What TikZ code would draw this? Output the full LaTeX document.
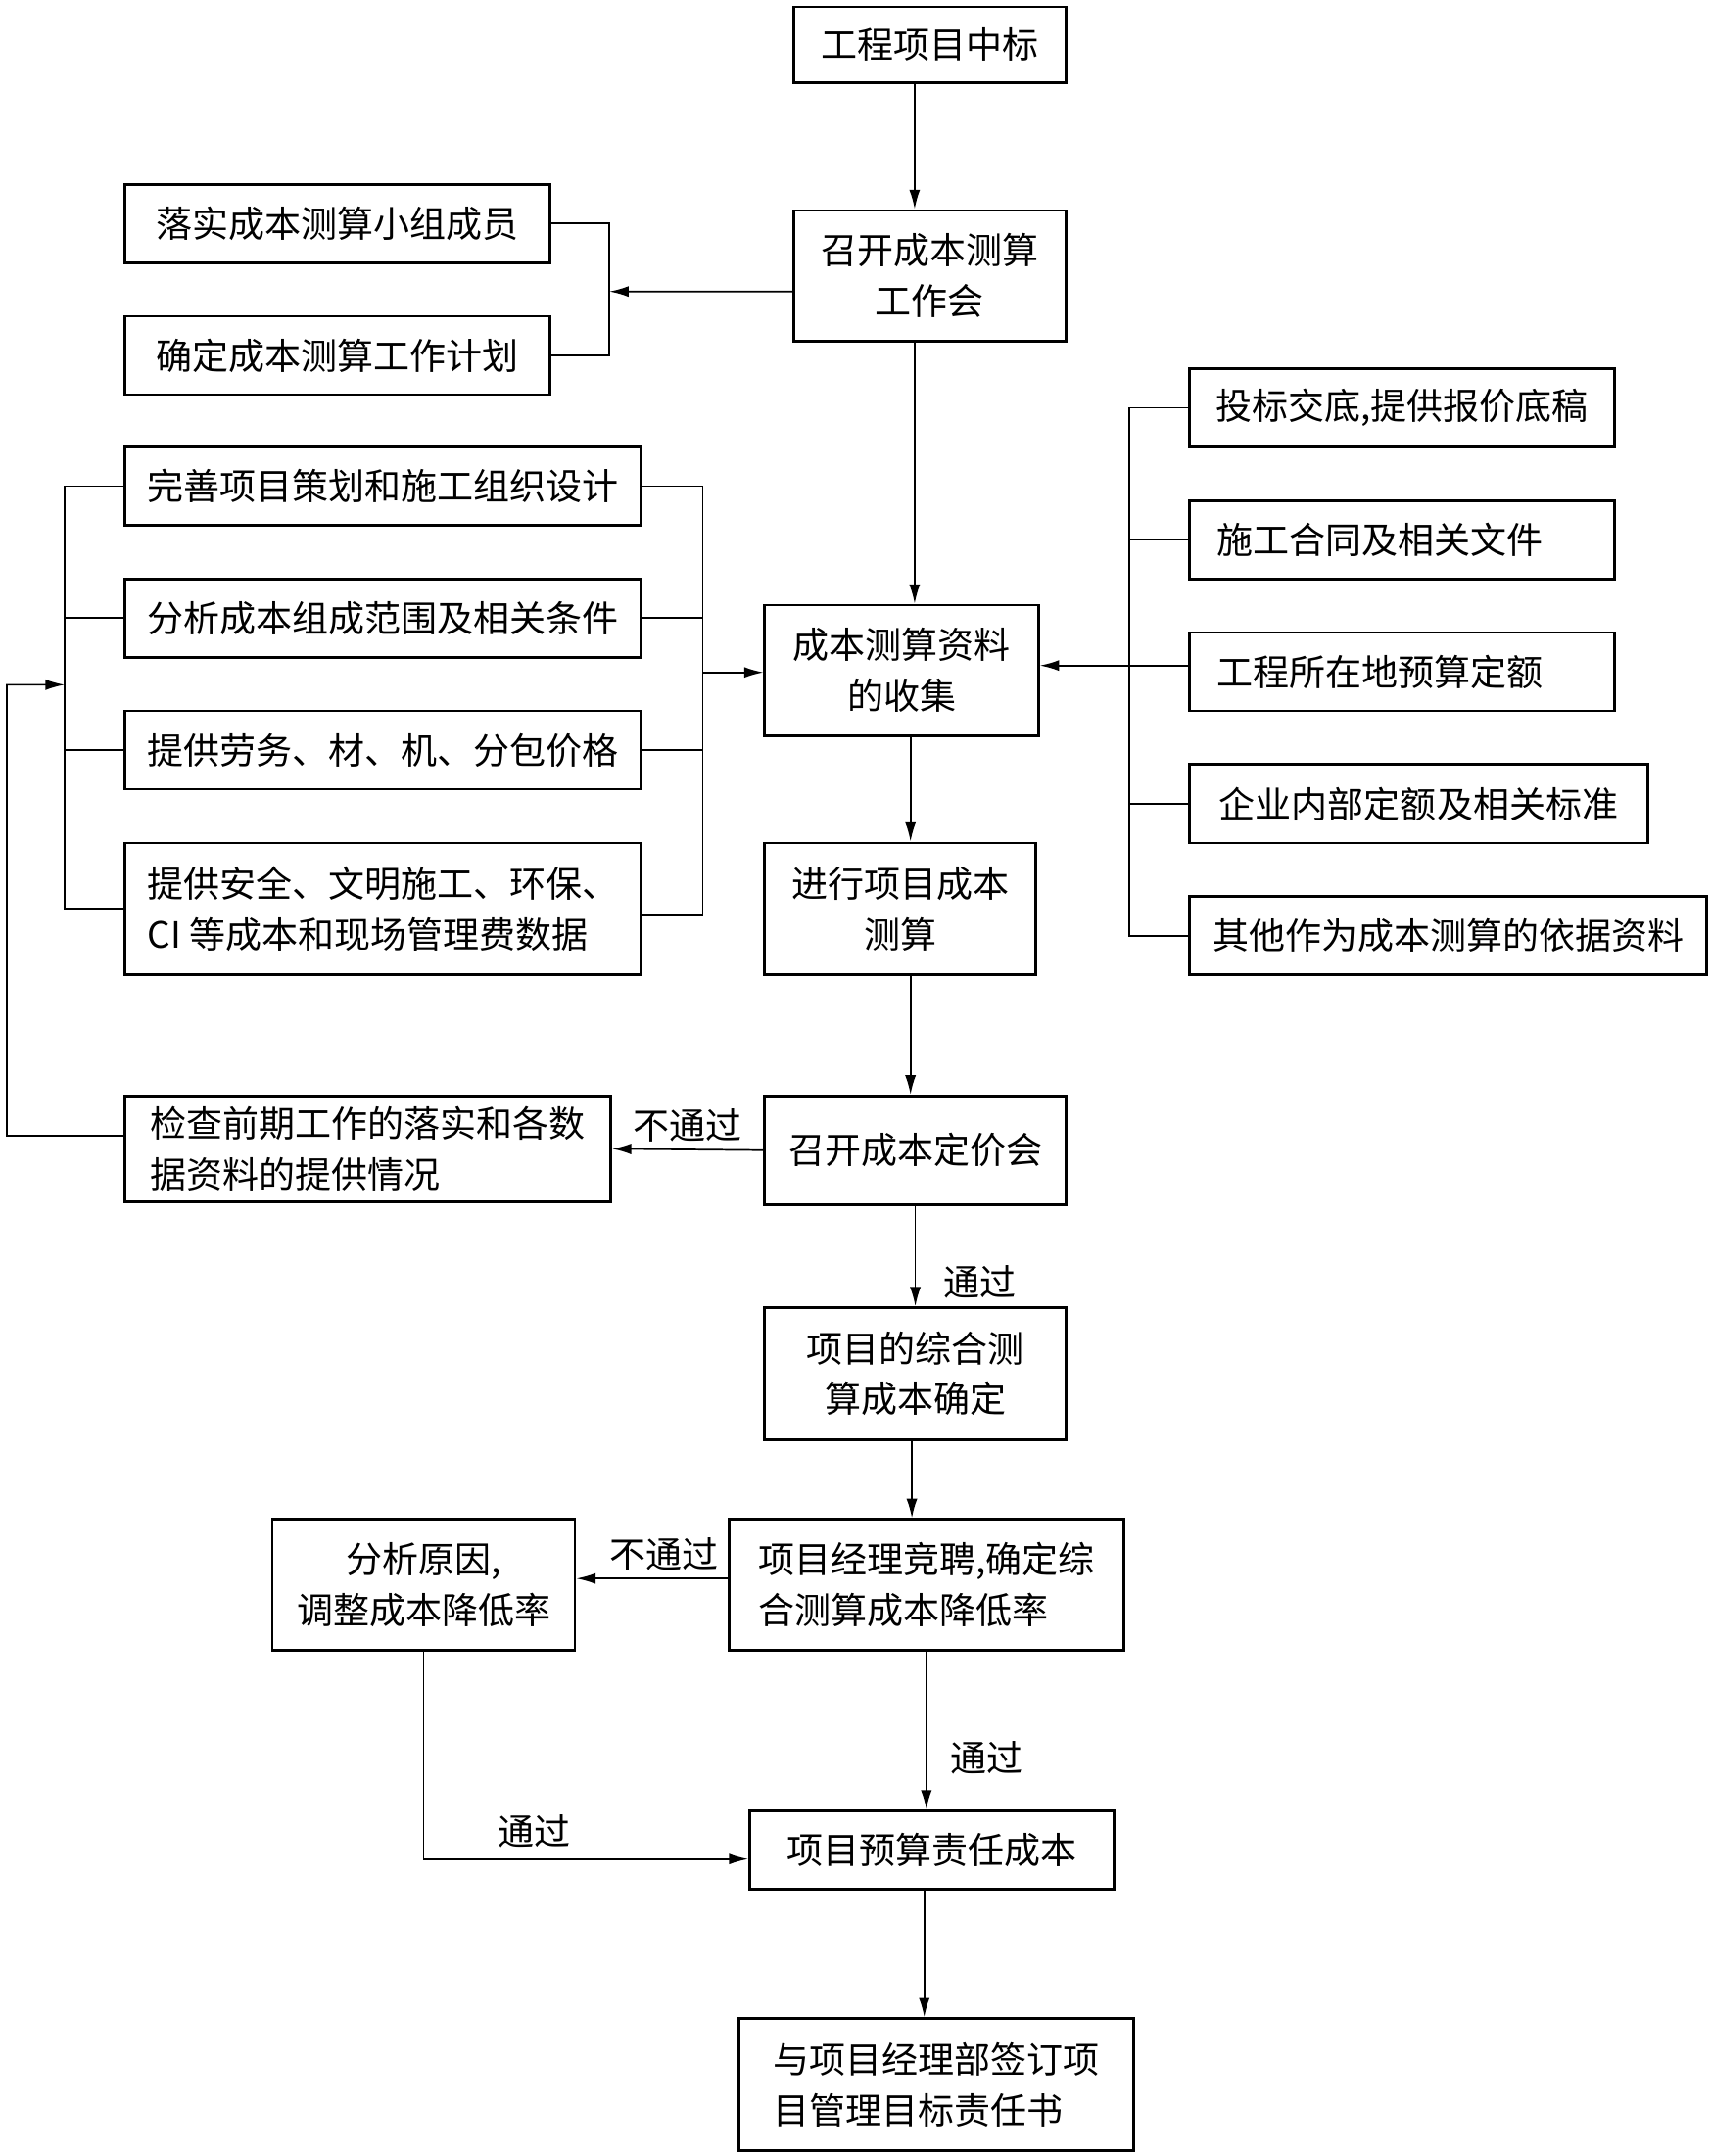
\documentclass[tikz,border=0pt]{standalone}
\usepackage{fontspec}
\setmainfont{Noto Sans CJK SC}
\usepackage{tikz}
\usetikzlibrary{arrows.meta}
\tikzstyle{box} = [rectangle, draw, line width=1.1pt, minimum height=1.14cm, inner sep=2pt, text centered, font=\fontsize{15pt}{21pt}\selectfont]
\tikzstyle{tall} = [box, minimum height=1.92cm]
\tikzstyle{leftbox} = [box, anchor=west, align=left, inner xsep=0.4cm, text width=5.38cm]
\tikzstyle{line} = [line width=0.7pt]
\tikzstyle{arrow} = [line width=0.7pt, -{Latex[length=8pt,width=4.5pt]}]
\tikzstyle{lbl} = [font=\fontsize{15pt}{21pt}\selectfont, inner sep=1pt]

\begin{document}
\begin{tikzpicture}[x=0.02cm, y=-0.02cm]
        \useasboundingbox (0,0) rectangle (1244,1568);

        \node (node0) [box, minimum width=3.96cm, minimum height=1.1cm] at (676,32.5) {工程项目中标};
        \node (node1) [tall, minimum width=3.96cm, minimum height=1.9cm, align=center] at (676,200.5) {召开成本测算\\工作会};
        \node (node2) [box, minimum width=6.18cm] at (245.5,162.5) {落实成本测算小组成员};
        \node (node3) [box, minimum width=6.18cm] at (245.5,258.5) {确定成本测算工作计划};
        \node (node4) [tall, minimum width=3.98cm, minimum height=1.9cm, align=center] at (655.5,487.5) {成本测算资料\\的收集};

        \node (node5) [box, minimum width=7.5cm] at (278.5,353.5) {完善项目策划和施工组织设计};
        \node (node6) [box, minimum width=7.5cm] at (278.5,449.5) {分析成本组成范围及相关条件};
        \node (node7) [box, minimum width=7.5cm] at (278.5,545.5) {提供劳务、材、机、分包价格};
        \node (node8) [tall, minimum width=7.5cm, align=left] at (278.5,661) {提供安全、文明施工、环保、\\CI 等成本和现场管理费数据};

        \node (node9) [box, anchor=west, minimum width=6.18cm] at (864,296.5) {投标交底,提供报价底稿};
        \node (node10) [leftbox] at (864,392.5) {施工合同及相关文件};
        \node (node11) [leftbox] at (864,488.5) {工程所在地预算定额};
        \node (node12) [box, anchor=west, minimum width=6.66cm] at (864,584.5) {企业内部定额及相关标准};
        \node (node13) [box, anchor=west, minimum width=7.52cm] at (864,680.5) {其他作为成本测算的依据资料};

        \node (node14) [tall, minimum width=3.94cm, align=center] at (654.5,661) {进行项目成本\\测算};
        \node (node15) [box, minimum width=4.38cm, minimum height=1.58cm] at (665.5,836.5) {召开成本定价会};
        \node (node16) [box, minimum width=7.06cm, minimum height=1.54cm, align=left] at (267.5,835.5) {检查前期工作的落实和各数\\据资料的提供情况};
        \node (node17) [tall, minimum width=4.38cm, align=center] at (665.5,999) {项目的综合测\\算成本确定};
        \node (node18) [tall, minimum width=5.74cm, minimum height=1.9cm, align=left] at (673.5,1152.5) {项目经理竞聘,确定综\\合测算成本降低率};
        \node (node19) [tall, minimum width=4.4cm, minimum height=1.9cm, align=center] at (308,1152.5) {分析原因,\\调整成本降低率};
        \node (node20) [box, minimum width=5.3cm] at (677.5,1345.5) {项目预算责任成本};
        \node (node21) [tall, minimum width=5.74cm, align=left] at (680.5,1516) {与项目经理部签订项\\目管理目标责任书};

        \coordinate (b1) at (443,212);
        \coordinate (b2) at (821,484);
        \coordinate (b3) at (511,489);
        \coordinate (b4) at (47,498);
        \coordinate (b5) at (5,826);

        \draw [arrow] ([xshift=-0.22cm]node0.south) -- ([xshift=-0.22cm]node1.north);
        \draw [arrow] ([yshift=-0.23cm]node1.west) -- (b1);
        \draw [line] (node2.east) -- (node2.east -| b1) -- (node3.east -| b1) -- (node3.east);
        \draw [arrow] ([xshift=-0.22cm]node1.south) -- ([xshift=-0.22cm]node1.south |- node4.north);

        \draw [line] (node9.west) -- (node9.west -| b2) -- (node13.west -| b2) -- (node13.west);
        \draw [line] (node10.west) -- (node10.west -| b2);
        \draw [line] (node12.west) -- (node12.west -| b2);
        \draw [arrow] ([yshift=0.09cm]node11.west) -- ([yshift=0.09cm]node11.west -| node4.east);

        \draw [line] (node5.east) -- (node5.east -| b3) -- ([yshift=-0.1cm]node8.east -| b3) -- ([yshift=-0.1cm]node8.east);
        \draw [line] (node6.east) -- (node6.east -| b3);
        \draw [line] (node7.east) -- (node7.east -| b3);
        \draw [arrow] (b3) -- (b3 -| node4.west);

        \draw [line] (node5.west) -- (node5.west -| b4) -- (node8.west -| b4) -- (node8.west);
        \draw [line] (node6.west) -- (node6.west -| b4);
        \draw [line] (node7.west) -- (node7.west -| b4);
        \draw [arrow] ([yshift=0.19cm]node16.west) -- (b5) -- (b5 |- b4) -- (b4);

        \draw [arrow] ([xshift=0.13cm]node4.south) -- ([xshift=0.13cm]node4.south |- node14.north);
        \draw [arrow] ([xshift=0.15cm]node14.south) -- ([xshift=0.15cm]node14.south |- node15.north);
        \draw [arrow] (node15.west) --node[lbl, anchor=south, yshift=0.06cm] {不通过} (node16.east);
        \draw [arrow] (node15.south) --node[lbl, anchor=west, pos=0.76, xshift=0.36cm] {通过} (node17.north);
        \draw [arrow] ([xshift=-0.05cm]node17.south) -- ([xshift=-0.05cm]node17.south |- node18.north);
        \draw [arrow] ([yshift=0.09cm]node18.west) --node[lbl, anchor=south, xshift=0.18cm, yshift=0.06cm] {不通过} ([yshift=0.09cm]node18.west -| node19.east);
        \draw [arrow] (node18.south) --node[lbl, anchor=west, pos=0.67, xshift=0.3cm] {通过} (node18.south |- node20.north);
        \draw [arrow] (node19.south) |-node[lbl, anchor=south, pos=0.67, yshift=0.12cm] {通过} ([yshift=-0.13cm]node20.west);
        \draw [arrow] ([xshift=-0.11cm]node20.south) -- ([xshift=-0.11cm]node20.south |- node21.north);
    \end{tikzpicture}
\end{document}
